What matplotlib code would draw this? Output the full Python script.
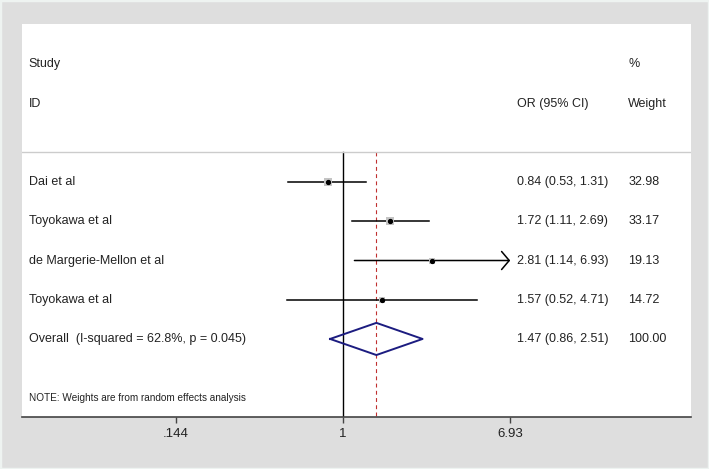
import numpy as np
import matplotlib
matplotlib.use("Agg")
import matplotlib.pyplot as plt
import matplotlib.transforms as mtransforms
from matplotlib.patches import Rectangle

plt.rcParams['font.family'] = ['Liberation Sans', 'DejaVu Sans']

studies = ["Dai et al", "Toyokawa et al", "de Margerie-Mellon et al", "Toyokawa et al"]
odds = [0.84, 1.72, 2.81, 1.57]
lower = [0.53, 1.11, 1.14, 0.52]
upper = [1.31, 2.69, 6.93, 4.71]
weights = [32.98, 33.17, 19.13, 14.72]

overall_label = "Overall  (I-squared = 62.8%, p = 0.045)"
overall_or = 1.47
overall_lo = 0.86
overall_hi = 2.51

tick_vals = [0.144, 1, 6.93]
tick_labels = [".144", "1", "6.93"]
x_max = 6.93  # CIs reaching this get an arrow

W, H = 709, 469
fig = plt.figure(figsize=(W / 100, H / 100), dpi=100, facecolor="#dedede")
fig.patches.append(Rectangle((0, 0), 1, 1, transform=fig.transFigure,
                             fill=False, edgecolor="#eef3f1", lw=2.5))
ax = fig.add_axes([22 / W, (H - 417) / H, (691 - 22) / W, (417 - 24) / H])
ax.set_facecolor("white")
ax.set_xscale("log")
ax.set_xlim(np.exp(-3.72), np.exp(4.03))
ax.set_ylim(6.99, -3.03)

for s in ["top", "left", "right"]:
    ax.spines[s].set_visible(False)
ax.spines["bottom"].set_color("#444444")
ax.spines["bottom"].set_linewidth(1.2)
ax.set_yticks([])
ax.set_xticks(tick_vals)
ax.set_xticklabels(tick_labels)
ax.minorticks_off()
ax.tick_params(axis="x", length=4, width=1, color="#444444", labelsize=9.5,
               pad=4, labelcolor="#222222")

trans = mtransforms.blended_transform_factory(ax.transAxes, ax.transData)
txt = dict(fontsize=9, color="#222222", va="center", transform=trans)
x_name, x_or, x_w = 0.010, 0.740, 0.906

# headers
ax.text(x_name, -2, "Study", **txt)
ax.text(x_name, -1, "ID", **txt)
ax.text(x_or, -1, "OR (95% CI)", **txt)
ax.text(x_w, -2, "%", **txt)
ax.text(x_w, -1, "Weight", **txt)
ax.plot([0, 1], [0.236, 0.236], color="#cccccc", lw=1, transform=trans)

# reference lines
ax.plot([1, 1], [0.236, 6.99], color="black", lw=1, zorder=1)
ax.plot([overall_or, overall_or], [0.236, 6.99], color="#c03030", lw=0.8,
        ls=(0, (3.5, 3)), zorder=1)

rows = np.arange(1, len(studies) + 1)
for r, name, o, lo, hi, w in zip(rows, studies, odds, lower, upper, weights):
    if hi >= x_max:
        ax.annotate("", xy=(hi, r), xytext=(lo, r),
                    arrowprops=dict(arrowstyle="->,head_length=0.55,head_width=0.65",
                                    lw=1.1, color="black", shrinkA=0, shrinkB=0))
    else:
        ax.plot([lo, hi], [r, r], color="black", lw=1.1, zorder=2)
    ax.scatter([o], [r], s=w * 1.0, marker="s", color="#c4c4c4", zorder=3, linewidths=0)
    ax.plot([o], [r], "o", color="black", ms=2.8, zorder=4)
    ax.text(x_name, r, name, **txt)
    ax.text(x_or, r, f"{o:.2f} ({lo:.2f}, {hi:.2f})", **txt)
    ax.text(x_w, r, f"{w:.2f}", **txt)

# overall diamond
r = len(studies) + 1
dx = [overall_lo, overall_or, overall_hi, overall_or, overall_lo]
dy = [r, r - 0.41, r, r + 0.41, r]
ax.plot(dx, dy, color="#1c1c80", lw=1.4, zorder=3)
ax.text(x_name, r, overall_label, **txt)
ax.text(x_or, r, f"{overall_or:.2f} ({overall_lo:.2f}, {overall_hi:.2f})", **txt)
ax.text(x_w, r, f"{sum(weights):.2f}", **txt)

ax.text(x_name, 6.5, "NOTE: Weights are from random effects analysis",
        fontsize=7.2, color="#222222", va="center", transform=trans)

fig.savefig("out.png", dpi=100, facecolor=fig.get_facecolor())
